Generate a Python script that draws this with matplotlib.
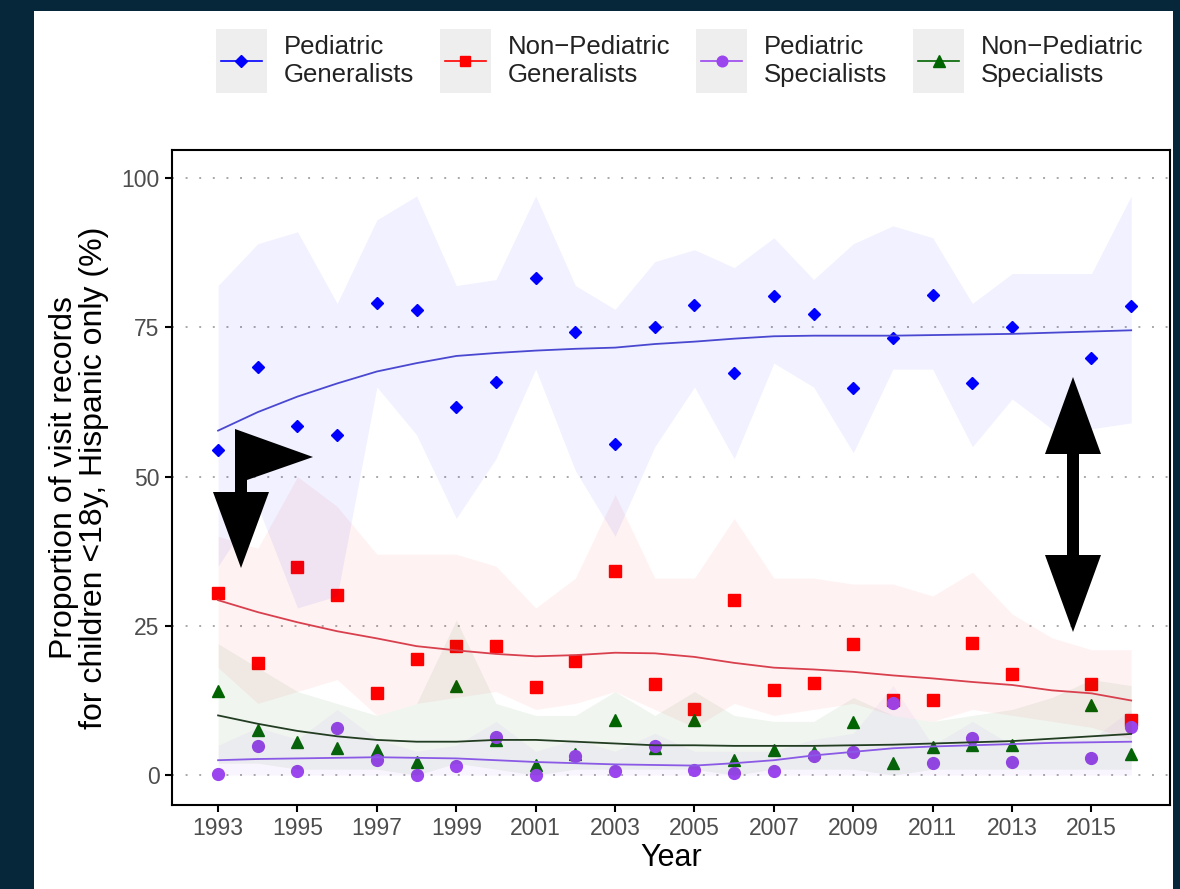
import numpy as np
import matplotlib.pyplot as plt
from matplotlib.lines import Line2D
from matplotlib.patches import Rectangle, Polygon

plt.rcParams['font.family'] = ['Liberation Sans', 'DejaVu Sans']

years = list(range(1993, 2017))

# observed proportions (%), no points shown for 2014
ped_gen = [54.5, 68.4, 58.4, 57.0, 79.1, 77.9, 61.6, 65.8, 83.2, 74.2, 55.5, 75.1,
           78.7, 67.4, 80.3, 77.2, 64.9, 73.2, 80.4, 65.7, 75.1, np.nan, 69.8, 78.6]
nonped_gen = [30.5, 18.7, 34.9, 30.1, 13.7, 19.5, 21.6, 21.6, 14.7, 19.1, 34.2, 15.2,
              11.0, 29.3, 14.3, 15.5, 21.9, 12.6, 12.5, 22.2, 16.9, np.nan, 15.3, 9.3]
ped_spec = [0.2, 4.9, 0.7, 7.9, 2.5, 0.0, 1.6, 6.4, 0.0, 3.2, 0.7, 4.8,
            0.8, 0.4, 0.7, 3.2, 3.9, 12.0, 2.0, 6.3, 2.2, np.nan, 2.9, 8.1]
nonped_spec = [14.1, 7.5, 5.6, 4.6, 4.2, 2.2, 14.9, 5.9, 1.7, 3.5, 9.2, 4.5,
               9.2, 2.5, 4.2, 3.9, 8.9, 2.0, 4.7, 5.0, 5.0, np.nan, 11.7, 3.5]

# smoothed trend lines
ped_gen_fit = [57.7, 60.8, 63.4, 65.6, 67.6, 69.0, 70.2, 70.7, 71.1, 71.4, 71.6, 72.2,
               72.6, 73.1, 73.5, 73.6, 73.6, 73.6, 73.7, 73.8, 73.9, 74.1, 74.3, 74.5]
nonped_gen_fit = [29.3, 27.3, 25.6, 24.1, 22.9, 21.6, 20.9, 20.3, 19.9, 20.1, 20.5, 20.4,
                  19.8, 18.8, 18.0, 17.7, 17.3, 16.7, 16.2, 15.6, 15.1, 14.2, 13.7, 12.5]
ped_spec_fit = [2.5, 2.7, 2.8, 2.9, 3.0, 2.9, 2.8, 2.5, 2.2, 2.0, 1.8, 1.7,
                1.6, 2.0, 2.5, 3.3, 3.9, 4.5, 4.8, 5.0, 5.2, 5.4, 5.5, 5.6]
nonped_spec_fit = [10.0, 8.6, 7.4, 6.5, 5.9, 5.6, 5.6, 5.9, 5.9, 5.6, 5.3, 5.0,
                   5.0, 4.9, 4.9, 4.9, 5.0, 5.1, 5.3, 5.5, 5.7, 6.1, 6.5, 6.9]

# confidence bands
ped_gen_lo = [35, 45, 28, 30, 65, 57, 43, 53, 68, 51, 40, 55,
              65, 53, 69, 65, 54, 68, 68, 55, 63, 58, 58, 59]
ped_gen_hi = [82, 89, 91, 79, 93, 97, 82, 83, 97, 82, 78, 86,
              88, 85, 90, 83, 89, 92, 90, 79, 84, 84, 84, 97]
nonped_gen_lo = [18, 12, 14, 16, 10, 12, 13, 14, 11, 12, 14, 11,
                 8, 12, 10, 11, 12, 10, 9, 11, 10, 9, 8, 6]
nonped_gen_hi = [40, 38, 50, 45, 37, 37, 37, 35, 28, 33, 47, 33,
                 33, 43, 33, 33, 32, 32, 30, 34, 27, 23, 21, 21]
ped_spec_lo = [0, 0, 0, 0, 0, 0, 0, 0, 0, 0, 0, 0,
               0, 0, 0, 0, 0, 0, 0, 0, 0, 0, 0, 0]
ped_spec_hi = [5, 8, 6, 11, 6, 4, 5, 9, 4, 6, 4, 7,
               4, 4, 4, 6, 7, 15, 5, 9, 5, 6, 6, 11]
nonped_spec_lo = [2, 2, 1, 1, 1, 0, 2, 1, 0, 1, 1, 1,
                  1, 0, 1, 1, 1, 0, 1, 1, 1, 1, 1, 1]
nonped_spec_hi = [22, 18, 14, 12, 10, 12, 26, 12, 10, 10, 14, 10,
                  14, 10, 9, 9, 13, 10, 9, 10, 11, 13, 16, 15]

labels = ['Pediatric\nGeneralists', 'Non\u2212Pediatric\nGeneralists',
          'Pediatric\nSpecialists', 'Non\u2212Pediatric\nSpecialists']
colors = ['#0000ff', '#ff0000', '#9b45ee', '#006400']
line_colors = ['#4a48d0', '#d8404e', '#8a5ae6', '#223d22']
markers = ['D', 's', 'o', '^']
msizes = [6.5, 8.5, 8.5, 9.0]
band_alpha = [0.055, 0.05, 0.05, 0.06]

points = [ped_gen, nonped_gen, ped_spec, nonped_spec]
fits = [ped_gen_fit, nonped_gen_fit, ped_spec_fit, nonped_spec_fit]
los = [ped_gen_lo, nonped_gen_lo, ped_spec_lo, nonped_spec_lo]
his = [ped_gen_hi, nonped_gen_hi, ped_spec_hi, nonped_spec_hi]

fig = plt.figure(figsize=(11.8, 8.89), dpi=100, facecolor='#062739')
fig.patches.append(Rectangle((34 / 1180, 0), 1139 / 1180, 878 / 889,
                             transform=fig.transFigure, facecolor='white',
                             edgecolor='none', zorder=-1))

ax = fig.add_axes([0.1458, 0.0945, 0.8458, 0.7368])

order = [0, 1, 3, 2]
for i in order:
    ax.plot(years, points[i], linestyle='none', marker=markers[i], ms=msizes[i],
            color=colors[i], zorder=3)
for i in order:
    ax.fill_between(years, los[i], his[i], color=colors[i], alpha=band_alpha[i],
                    linewidth=0, zorder=4)
for i in order:
    ax.plot(years, fits[i], color=line_colors[i], linewidth=1.3, zorder=5)

ax.set_xlim(1991.84, 2016.98)
ax.set_ylim(-5.0, 104.7)
ax.set_xticks(range(1993, 2016, 2))
ax.set_yticks([0, 25, 50, 75, 100])
ax.tick_params(direction='out', length=5, width=1.5, color='black',
               labelcolor='#4d4d4d', labelsize=16.5, pad=4)
for s in ax.spines.values():
    s.set_linewidth(1.5)
    s.set_color('black')
ax.yaxis.grid(True, linestyle=(0, (1, 6)), color='#a8a8a8', linewidth=1.4)
ax.set_axisbelow(True)

ax.set_xlabel('Year', fontsize=22, labelpad=2)
ax.set_ylabel('Proportion of visit records\nfor children <18y, Hispanic only (%)',
              fontsize=23, labelpad=9, linespacing=1.0)

handles = [Line2D([], [], color=colors[i], marker=markers[i], ms=msizes[i] * 0.9,
                  linewidth=1.2) for i in range(4)]
leg = fig.legend(handles, labels, ncol=4, loc='center',
                 bbox_to_anchor=(0.578, 0.9315), frameon=False, fontsize=18.5,
                 handlelength=1.6, handletextpad=0.85, columnspacing=1.2,
                 labelspacing=0.2)
for t in leg.get_texts():
    t.set_color('#222222')
    t.set_linespacing(1.25)

# grey key backgrounds behind legend handles
fig.canvas.draw()
r = fig.canvas.get_renderer()
for h in leg.legend_handles:
    bb = h.get_window_extent(r)
    cx = (bb.x0 + bb.x1) / 2
    cy = (bb.y0 + bb.y1) / 2
    fig.patches.append(Rectangle(((cx - 25.5) / 1180, (cy - 32) / 889), 51 / 1180, 64 / 889,
                                 transform=fig.transFigure, facecolor='#eeeeee',
                                 edgecolor='none', zorder=4))


def px(x, y):
    return (x / 1180, 1 - y / 889)


# black arrow annotations
arrow_shapes = [
    [(235, 429), (313, 457), (247, 480), (247, 492), (269, 492), (241, 568),
     (213, 492), (235, 492)],
    [(1073, 377), (1101, 454), (1079, 454), (1079, 555), (1101, 555), (1073, 632),
     (1045, 555), (1067, 555), (1067, 454), (1045, 454)],
]
for shp in arrow_shapes:
    fig.patches.append(Polygon([px(x, y) for x, y in shp], closed=True,
                               transform=fig.transFigure, facecolor='black',
                               edgecolor='none', zorder=10))

fig.savefig('out.png', dpi=100, facecolor=fig.get_facecolor())
